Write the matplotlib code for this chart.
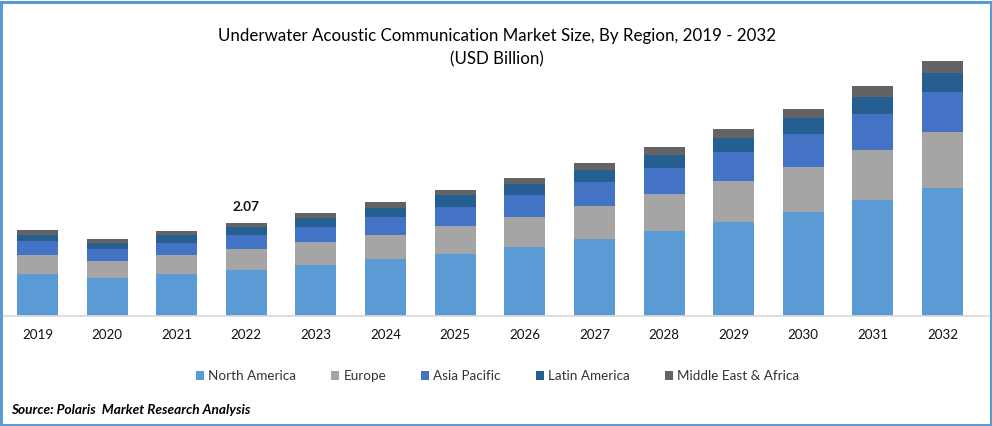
import matplotlib
matplotlib.use("Agg")
import matplotlib.pyplot as plt
from matplotlib.patches import Rectangle

plt.rcParams['font.family'] = ['Lato', 'DejaVu Sans']

years = ['2019','2020','2021','2022','2023','2024','2025','2026','2027','2028','2029','2030','2031','2032']
north_america = [0.93,0.84,0.93,1.02,1.13,1.27,1.38,1.53,1.71,1.89,2.09,2.32,2.59,2.86]
europe = [0.43,0.38,0.43,0.47,0.52,0.54,0.63,0.67,0.74,0.83,0.92,1.01,1.12,1.25]
asia_pacific = [0.30,0.27,0.27,0.31,0.34,0.40,0.43,0.49,0.54,0.58,0.65,0.74,0.81,0.90]
latin_america = [0.15,0.13,0.18,0.18,0.20,0.20,0.27,0.25,0.27,0.29,0.31,0.36,0.38,0.43]
mea = [0.11,0.09,0.09,0.09,0.11,0.13,0.09,0.13,0.16,0.18,0.20,0.20,0.25,0.25]
series = [('North America', north_america, '#5B9BD5'),
          ('Europe', europe, '#A5A5A5'),
          ('Asia Pacific', asia_pacific, '#4472C4'),
          ('Latin America', latin_america, '#255E91'),
          ('Middle East & Africa', mea, '#636363')]
annotated_year = '2022'
annotated_label = '2.07'

W, H = 992, 426
fig = plt.figure(figsize=(W/100, H/100), dpi=100, facecolor='white')
ax = fig.add_axes([3/W, (H-315.5)/H, 986/W, (315.5-40)/H])
x = list(range(len(years)))
bottom = [0]*len(years)
for name, vals, col in series:
    ax.bar(x, vals, 0.589, bottom=bottom, color=col, label=name, linewidth=0)
    bottom = [b+v for b, v in zip(bottom, vals)]

step = 69.62
ax.set_xlim(-(37.5-3)/step, len(years)-1 + (989-942.5)/step)
ax.set_ylim(0, 275.5*0.0224)
for s in ['top','left','right']:
    ax.spines[s].set_visible(False)
ax.spines['bottom'].set_color('#D9D9D9')
ax.spines['bottom'].set_linewidth(1.2)
ax.set_yticks([])
ax.set_xticks(x, years, fontsize=9.6, color='#111111')
ax.tick_params(axis='x', length=0, pad=10)

i = years.index(annotated_year)
ax.annotate(annotated_label, (i, bottom[i]), xytext=(0, 7), textcoords='offset points',
            ha='center', va='bottom', fontsize=9.8, fontweight='bold', color='#111111')

fig.text(497.5/W, 1-35.5/H, 'Underwater Acoustic Communication Market Size, By Region, 2019 - 2032',
         ha='center', va='center', fontsize=12.2, color='#000000')
fig.text(497/W, 1-59/H, '(USD Billion)', ha='center', va='center', fontsize=12.2, color='#000000')

fig.legend(loc='center', bbox_to_anchor=(497.5/W, 1-376/H), ncol=5, frameon=False,
           fontsize=9.7, labelcolor='#333333', handlelength=0.6, handleheight=0.6,
           handletextpad=0.3, columnspacing=2.6)

fig.text(11/W, 1-410/H, 'Source: Polaris  Market Research Analysis', ha='left', va='center',
         fontsize=9.8, fontweight='bold', fontstyle='italic', color='#000000')

fig.add_artist(Rectangle((1/W, 1/H), (W-2.5)/W, (H-2.5)/H, transform=fig.transFigure, fill=False,
                         edgecolor='#5B9BD5', linewidth=2.2))
fig.savefig('out.png', dpi=100, facecolor='white')
